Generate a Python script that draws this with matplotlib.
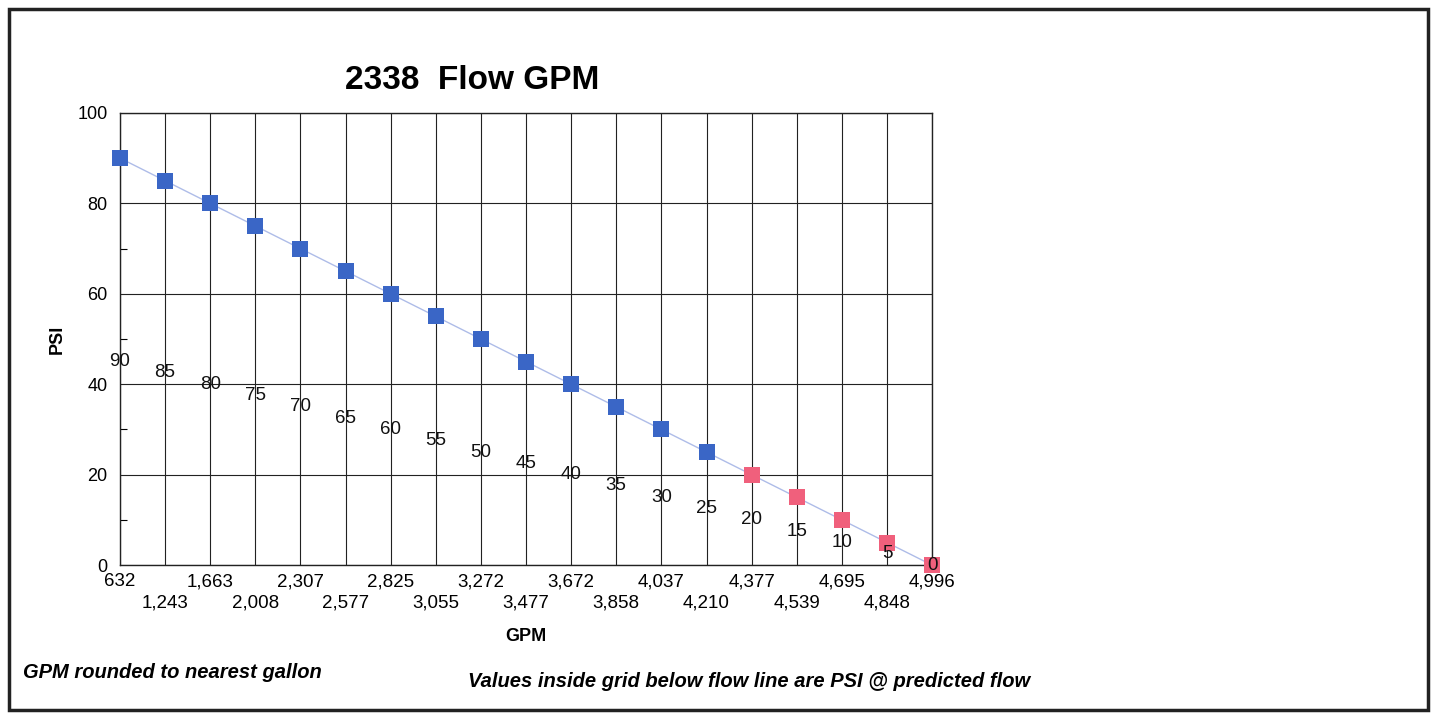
import matplotlib
matplotlib.use("Agg")
import matplotlib.pyplot as plt
from matplotlib.patches import Rectangle

plt.rcParams['font.family'] = ['Liberation Sans', 'DejaVu Sans']

gpm = ["632", "1,243", "1,663", "2,008", "2,307", "2,577", "2,825", "3,055", "3,272",
       "3,477", "3,672", "3,858", "4,037", "4,210", "4,377", "4,539", "4,695", "4,848", "4,996"]
psi = [90, 85, 80, 75, 70, 65, 60, 55, 50, 45, 40, 35, 30, 25, 20, 15, 10, 5, 0]
low_limit = 20  # points at or below this PSI are drawn pink

blue = '#3a66c6'
pink = '#f0607c'

fig = plt.figure(figsize=(14.4, 7.19), dpi=100)
ax = fig.add_axes([0.0833, 0.214, 0.564, 0.629])

x = list(range(len(gpm)))
ax.plot(x, psi, color='#aebce8', lw=1.0, zorder=2)
xb = [i for i in x if psi[i] > low_limit]
xp = [i for i in x if psi[i] <= low_limit]
ax.scatter(xb, [psi[i] for i in xb], marker='s', s=130, color=blue, zorder=3,
           linewidths=0, clip_on=False)
ax.scatter(xp, [psi[i] for i in xp], marker='s', s=130, color=pink, zorder=3,
           linewidths=0, clip_on=False)

for i, v in zip(x, psi):
    ax.text(i, v / 2, str(v), ha='center', va='center', fontsize=13.5, color='#111111', zorder=4)

ax.set_xlim(0, len(gpm) - 1)
ax.set_ylim(0, 100)
ax.set_xticks(x)
ax.set_xticklabels(gpm, fontsize=13.5)
for i, t in enumerate(ax.xaxis.get_major_ticks()):
    t.set_pad(6 if i % 2 == 0 else 21)
ax.tick_params(axis='x', length=0)
ax.set_yticks(range(0, 101, 20))
ax.set_yticks(range(10, 100, 20), minor=True)
ax.tick_params(axis='y', which='major', length=0, pad=9, labelsize=13)
ax.tick_params(axis='y', which='minor', direction='in', length=5, width=0.8)
ax.grid(True, which='major', color='#222222', lw=0.8)
for s in ax.spines.values():
    s.set_color('#222222')
    s.set_linewidth(1.0)

ax.set_xlabel('GPM', fontsize=13, fontweight='bold', labelpad=12)
ax.set_ylabel('PSI', fontsize=13, fontweight='bold', labelpad=8)

fig.text(0.328, 0.888, '2338  Flow GPM', ha='center', va='center', fontsize=24, fontweight='bold')

fig.text(0.016, 0.064, 'GPM rounded to nearest gallon', ha='left', va='center',
         fontsize=14.5, fontweight='bold', style='italic')
fig.text(0.325, 0.052, 'Values inside grid below flow line are PSI @ predicted flow', ha='left',
         va='center', fontsize=14.5, fontweight='bold', style='italic')

fig.patches.append(Rectangle((0.006, 0.012), 0.986, 0.976, transform=fig.transFigure,
                             fill=False, lw=2.5, edgecolor='#222222'))

fig.savefig('out.png', dpi=100)
